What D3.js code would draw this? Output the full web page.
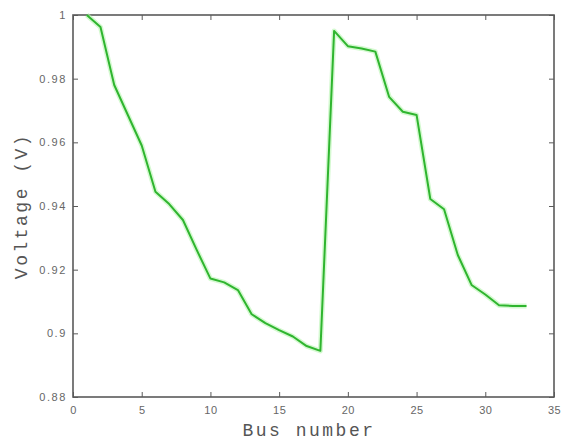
<!DOCTYPE html>
<html>
<head>
<meta charset="utf-8">
<script src="https://cdn.jsdelivr.net/npm/d3@7"></script>
<style>
html,body{margin:0;padding:0;background:#fff;}
svg{display:block;}
</style>
</head>
<body>
<svg id="chart" width="565" height="444"></svg>
<script>
const busNumbers = [1,2,3,4,5,6,7,8,9,10,11,12,13,14,15,16,17,18,19,20,21,22,23,24,25,26,27,28,29,30,31,32,33];
const voltages = [1.0000,0.9962,0.9780,0.9685,0.9590,0.9445,0.9406,0.9356,0.9262,0.9172,0.9160,0.9136,0.9060,0.9032,0.9010,0.8990,0.8960,0.8945,0.9950,0.9902,0.9895,0.9885,0.9743,0.9696,0.9686,0.9422,0.9390,0.9246,0.9152,0.9122,0.9088,0.9086,0.9086];
const xTicks = [0,5,10,15,20,25,30,35];
const yTicks = [0.88,0.9,0.92,0.94,0.96,0.98,1];
const xLabel = "Bus number";
const yLabel = "Voltage (V)";

(function(){
const svg = d3.select("#chart");
const L = 73, R = 554, T = 15, B = 397;
const x = d3.scaleLinear().domain([0,35]).range([L,R]);
const y = d3.scaleLinear().domain([0.88,1]).range([B,T]);
const axisColor = "#5a5a5a";
const tickFmt = d => String(+(+d).toFixed(2));

function styleAxis(g, showLabels){
  g.select(".domain").remove();
  g.selectAll(".tick line").attr("stroke", axisColor).attr("stroke-width",1);
  g.selectAll(".tick text").attr("fill","#666").style("font-family","Arial, 'Liberation Sans', sans-serif").style("font-size","11px");
  if(!showLabels) g.selectAll(".tick text").remove();
}

svg.append("g").attr("transform",`translate(0,${B})`)
  .call(d3.axisBottom(x).tickValues(xTicks).tickSizeInner(-5).tickSizeOuter(0).tickPadding(9).tickFormat(tickFmt))
  .call(g=>styleAxis(g,true))
  .call(g=>g.selectAll(".tick text").style("letter-spacing","0.5px"));
svg.append("g").attr("transform",`translate(0,${T})`)
  .call(d3.axisTop(x).tickValues(xTicks).tickSizeInner(-5).tickSizeOuter(0))
  .call(g=>styleAxis(g,false));
svg.append("g").attr("transform",`translate(${L},0)`)
  .call(d3.axisLeft(y).tickValues(yTicks).tickSizeInner(-5).tickSizeOuter(0).tickPadding(6).tickFormat(tickFmt))
  .call(g=>styleAxis(g,true))
  .call(g=>g.selectAll(".tick text").style("letter-spacing","1.6px"));
svg.append("g").attr("transform",`translate(${R},0)`)
  .call(d3.axisRight(y).tickValues(yTicks).tickSizeInner(-5).tickSizeOuter(0))
  .call(g=>styleAxis(g,false));

svg.append("rect").attr("x",L).attr("y",T).attr("width",R-L).attr("height",B-T)
  .attr("fill","none").attr("stroke",axisColor).attr("stroke-width",1.6);

const line = d3.line().x((d,i)=>x(busNumbers[i])).y(d=>y(d));
svg.append("path").datum(voltages).attr("d",line)
  .attr("fill","none").attr("stroke","#b8f5b0").attr("stroke-width",5).attr("stroke-linejoin","round").attr("opacity",0.6);
svg.append("path").datum(voltages).attr("d",line)
  .attr("fill","none").attr("stroke","#2fb52f").attr("stroke-width",2).attr("stroke-linejoin","round");

svg.append("text").attr("x",309).attr("y",436).attr("text-anchor","middle")
  .style("font-family","'Liberation Mono','Courier New',monospace").style("font-size","18px").style("letter-spacing","2.5px")
  .attr("fill","#555").text(xLabel);
svg.append("text").attr("transform",`translate(27,206) rotate(-90)`).attr("text-anchor","middle")
  .style("font-family","'Liberation Mono','Courier New',monospace").style("font-size","18px").style("letter-spacing","2.5px")
  .attr("fill","#555").text(yLabel);
})();
</script>
</body>
</html>
